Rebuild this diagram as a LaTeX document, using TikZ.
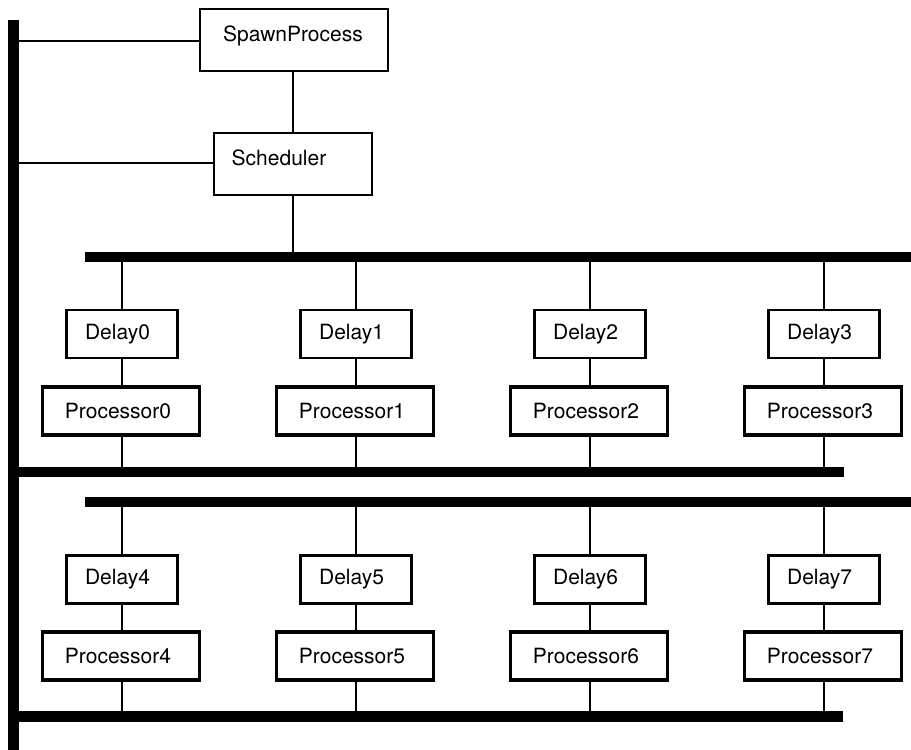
\documentclass[tikz,border=0pt]{standalone}
\usepackage{fontspec}
\setmainfont{TeX Gyre Heros}
\begin{document}
\begin{tikzpicture}[x=1pt,y=-1pt,
  every node/.style={font=\fontsize{21}{25}\selectfont},
  topbox/.style={draw,line width=2.4pt,inner sep=0pt},
  delaybox/.style={draw,line width=2.8pt,minimum width=111pt,minimum height=48pt,inner sep=0pt},
  procbox/.style={draw,line width=3.4pt,minimum width=157pt,minimum height=48pt,inner sep=0pt},
  conn/.style={line width=2.4pt},
  bus/.style={line width=10.5pt}]
\useasboundingbox (0,0) rectangle (911,750);
% buses
\coordinate (vtop) at (13.5,20);
\coordinate (vbot) at (13.5,750);
\coordinate (b1s) at (85,257);
\coordinate (b1e) at (911,257);
\coordinate (b2s) at (13.5,472);
\coordinate (b2e) at (844,472);
\coordinate (b3s) at (85,502);
\coordinate (b3e) at (911,502);
\coordinate (b4s) at (13.5,716.5);
\coordinate (b4e) at (843,716.5);
\draw[bus] (vtop) -- (vbot);
\draw[bus] (b1s) -- (b1e);
\draw[bus] (b2s) -- (b2e);
\draw[bus] (b3s) -- (b3e);
\draw[bus] (b4s) -- (b4e);
% top boxes
\node[topbox,minimum width=188pt,minimum height=62pt] (spawn) at (294,40) {};
\node (spawntext) at (293,36) {SpawnProcess};
\node[topbox,minimum width=158pt,minimum height=62pt] (sched) at (293,164) {};
\node (schedtext) at (279,158) {Scheduler};
\draw[conn] (spawn.west |- 0,41) -- (vtop |- 0,41);
\draw[conn] (sched.west |- 0,163) -- (vtop |- 0,163);
\draw[conn] (spawn.south -| sched) -- (sched.north);
\draw[conn] (sched.south) -- (sched.south |- b1s);
% row 1
\foreach \i/\x in {0/122,1/356,2/590,3/824}{
  \node[delaybox] (d\i) at (\x,334) {Delay\i\hspace*{9pt}};
  \node[procbox] (p\i) at (\x-1,411) {Processor\i\hspace*{6pt}};
  \draw[conn] (d\i.north) -- (d\i.north |- b1s);
  \draw[conn] (d\i.south) -- (d\i.south |- p\i.north);
  \draw[conn] (p\i.south -| d\i) -- (d\i |- b2s);
}
% row 2
\foreach \i/\x in {4/122,5/356,6/590,7/824}{
  \node[delaybox] (d\i) at (\x,579.5) {Delay\i\hspace*{9pt}};
  \node[procbox] (p\i) at (\x-1,656) {Processor\i\hspace*{6pt}};
  \draw[conn] (d\i.north) -- (d\i.north |- b3s);
  \draw[conn] (d\i.south) -- (d\i.south |- p\i.north);
  \draw[conn] (p\i.south -| d\i) -- (d\i |- b4s);
}
\end{tikzpicture}
\end{document}
